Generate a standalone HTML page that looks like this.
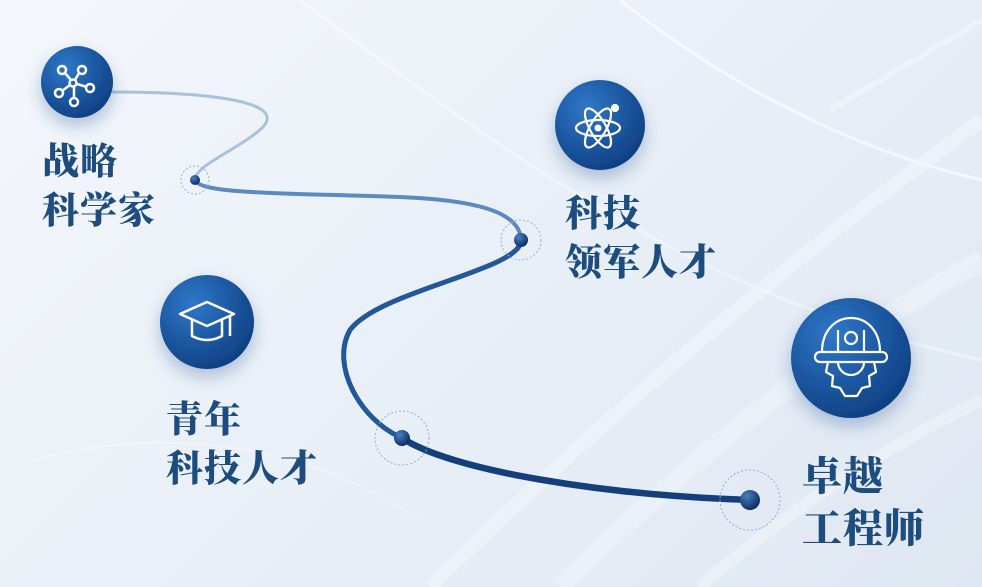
<!DOCTYPE html>
<html><head><meta charset="utf-8"><style>
html,body{margin:0;padding:0}
body{width:982px;height:587px;overflow:hidden;position:relative;background:linear-gradient(135deg,#f4f7fb 0%,#e9eff7 50%,#dfe7f2 100%);font-family:"Liberation Serif","Noto Serif CJK SC",serif}
.t{position:absolute;color:#1d4d7e;font-weight:900;font-size:37px;line-height:49px;letter-spacing:1px}
svg{position:absolute;left:0;top:0}
</style></head><body>
<svg width="982" height="587" viewBox="0 0 982 587">
<defs>
<radialGradient id="cg" cx="35%" cy="30%" r="75%"><stop offset="0" stop-color="#2f78c8"/><stop offset="1" stop-color="#0e3f82"/></radialGradient>
<radialGradient id="dg" cx="35%" cy="30%" r="70%"><stop offset="0" stop-color="#4a7fc0"/><stop offset="1" stop-color="#0c2f66"/></radialGradient>
<filter id="sh" x="-50%" y="-50%" width="200%" height="200%"><feDropShadow dx="0" dy="8" stdDeviation="8" flood-color="#1a4a8a" flood-opacity="0.3"/></filter>
</defs>
<g stroke="#ffffff" fill="none" opacity="0.6">
<path d="M430,587 C600,420 800,250 982,120" stroke-width="14" opacity="0.5"/>
<path d="M560,587 C700,450 850,330 982,260" stroke-width="20" opacity="0.4"/>
<path d="M700,587 C800,500 900,440 982,400" stroke-width="12" opacity="0.5"/>
<path d="M300,0 C500,150 700,300 982,360" stroke-width="3" opacity="0.6"/>
<path d="M620,0 C720,80 850,150 982,180" stroke-width="3"/>
<path d="M830,110 L982,20" stroke-width="6" opacity="0.6"/>
<path d="M0,470 C150,420 300,440 420,520" stroke-width="2" opacity="0.5"/>
</g>
<path d="M112,92 C200,92 290,100 262,128 C238,150 195,165 195,180" stroke="#a9c1dc" stroke-width="3" fill="none"/>
<path d="M195,180 C200,195 300,193 400,197 C470,200 520,210 521,240" stroke="#5c8ac0" stroke-width="4" fill="none"/>
<path d="M521,240 C522,270 380,290 350,330 C330,365 360,420 402,438" stroke="#22579a" stroke-width="5" fill="none"/>
<path d="M402,438 C450,470 600,495 750,500" stroke="#143f7a" stroke-width="6.5" fill="none"/>
<g fill="none" stroke="#8fb0d8" stroke-width="1" stroke-dasharray="2,2">
<circle cx="195" cy="180" r="14"/><circle cx="521" cy="240" r="20"/><circle cx="402" cy="438" r="27"/><circle cx="750" cy="500" r="30"/>
</g>
<circle cx="195" cy="180" r="5" fill="url(#dg)"/>
<circle cx="521" cy="240" r="7" fill="url(#dg)"/>
<circle cx="402" cy="438" r="8" fill="url(#dg)"/>
<circle cx="750" cy="500" r="10" fill="url(#dg)"/>
<g filter="url(#sh)">
<circle cx="77" cy="82" r="36" fill="url(#cg)"/>
<circle cx="600" cy="125" r="45" fill="url(#cg)"/>
<circle cx="207" cy="322" r="47" fill="url(#cg)"/>
<circle cx="851" cy="358" r="60" fill="url(#cg)"/>
</g>
<g stroke="#fff" stroke-width="2.5" fill="none">
<circle cx="73" cy="83" r="3.5"/>
<circle cx="62" cy="70" r="4"/><circle cx="82" cy="70" r="4"/><circle cx="59" cy="93" r="4"/><circle cx="90" cy="88" r="4"/><circle cx="74" cy="102" r="4"/>
<path d="M65,73 L71,80 M79,73 L75,80 M62,91 L70,85 M87,87 L77,84 M74,98 L74,87"/>
</g>
<g stroke="#fff" stroke-width="2.2" fill="none">
<ellipse cx="598" cy="128" rx="22" ry="8"/>
<ellipse cx="598" cy="128" rx="22" ry="8" transform="rotate(60 598 128)"/>
<ellipse cx="598" cy="128" rx="22" ry="8" transform="rotate(-60 598 128)"/>
<circle cx="615" cy="108" r="3" fill="#fff"/>
</g>
<circle cx="598" cy="128" r="3.5" fill="#fff"/>
<g stroke="#fff" stroke-width="2.5" fill="none" stroke-linejoin="round">
<path d="M180,314 L207,302 L234,314 L207,326 Z"/>
<path d="M192,320 L192,336 Q207,344 222,336 L222,320"/>
<path d="M230,316 L230,336"/>
</g>
<g stroke="#fff" stroke-width="2.2" fill="none" stroke-linejoin="round">
<path d="M822,352 C822,330 836,318 851,318 C866,318 880,330 880,352"/>
<rect x="815" y="352" width="72" height="10" rx="5"/>
<circle cx="851" cy="338" r="6"/>
<path d="M838,352 L838,330 M864,352 L864,330"/>
<path d="M828,362 L826,372 L833,376 L832,386 L840,388 L845,396 L857,396 L862,388 L870,386 L869,376 L876,372 L874,362"/>
<path d="M838,362 A13,13 0 0 0 864,362"/>
</g>
</svg>
<div class="t" style="left:42px;top:138px">战略<br>科学家</div>
<div class="t" style="left:565px;top:190px">科技<br>领军人才</div>
<div class="t" style="left:166px;top:396px">青年<br>科技人才</div>
<div class="t" style="left:802px;top:451px;font-size:40px;line-height:52px">卓越<br>工程师</div>
</body></html>
